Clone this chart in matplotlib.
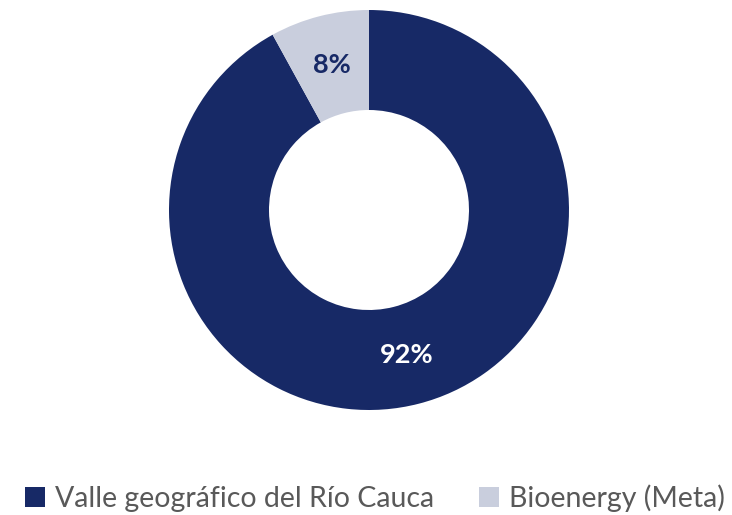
import matplotlib
matplotlib.use('Agg')
import matplotlib.pyplot as plt

labels = ['Valle geográfico del Río Cauca', 'Bioenergy (Meta)']
shares = [92, 8]
colors = ['#172966', '#c9cedd']
pct_colors = ['white', '#172966']

plt.rcParams['font.family'] = ['Lato', 'DejaVu Sans']

fig = plt.figure(figsize=(7.32, 5.15), dpi=100)
ax = fig.add_axes([0, 0, 1, 1])

wedges, texts, autotexts = ax.pie(
    shares, colors=colors, startangle=90, counterclock=False,
    radius=200, center=(369, 305), autopct='%d%%', pctdistance=0.75,
    wedgeprops=dict(width=100, linewidth=0),
)
for t, c in zip(autotexts, pct_colors):
    t.set_color(c)
    t.set_fontsize(19.5)
    t.set_fontweight('bold')

ax.set_xlim(0, 732)
ax.set_ylim(0, 515)
ax.set_aspect('equal')
ax.axis('off')

leg = fig.legend(wedges, labels, loc='center', bbox_to_anchor=(0.512, 0.032),
                 ncol=2, frameon=False, fontsize=20.5, handlelength=0.7,
                 handleheight=0.7, handletextpad=0.35, columnspacing=1.6)
for t in leg.get_texts():
    t.set_color('#595959')

fig.savefig('out.png', dpi=100)
